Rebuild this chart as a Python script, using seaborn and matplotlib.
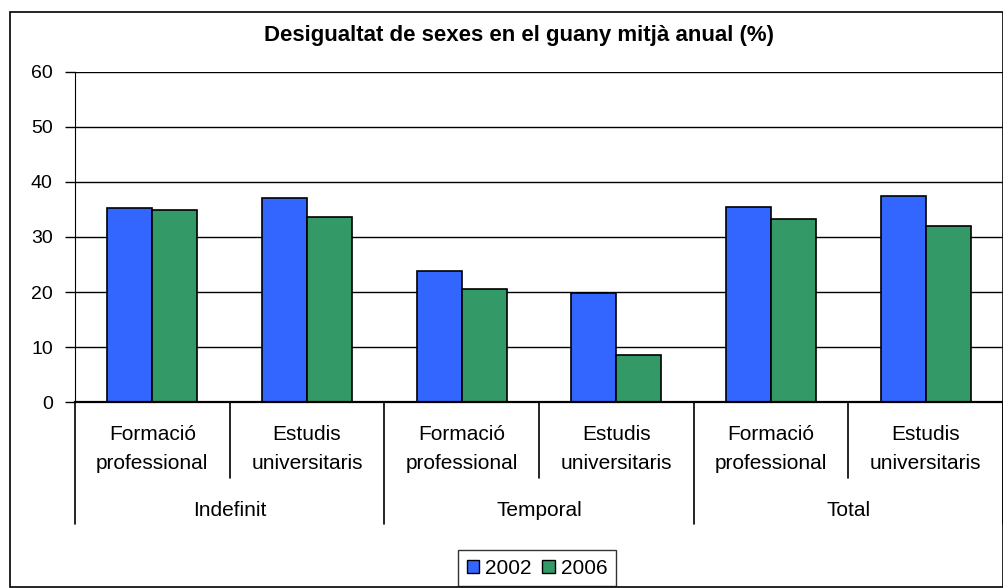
"""Desigualtat de sexes en el guany mitja anual - grouped bar chart."""

import matplotlib.pyplot as plt
import pandas as pd
import seaborn as sns
from matplotlib.patches import Patch, Rectangle

plt.switch_backend("Agg")

GROUPS = ["Indefinit", "Temporal", "Total"]
STUDIES = ["Formació\nprofessional", "Estudis\nuniversitaris"]
YEARS = ["2002", "2006"]
VALUES_2002 = [35.2, 37.1, 23.9, 19.9, 35.5, 37.5]
VALUES_2006 = [34.9, 33.6, 20.6, 8.5, 33.3, 32.0]
COLORS = ["#3366FF", "#339966"]


def main() -> None:
    sns.set_style("white")
    plt.rcParams["font.family"] = ["Liberation Sans", "DejaVu Sans"]
    for key in ["text.color", "xtick.color", "ytick.color", "axes.labelcolor"]:
        plt.rcParams[key] = "black"

    cats = [f"{g}|{s}" for g in GROUPS for s in STUDIES]
    df = pd.DataFrame(
        {
            "cat": cats * 2,
            "year": [YEARS[0]] * len(cats) + [YEARS[1]] * len(cats),
            "value": VALUES_2002 + VALUES_2006,
        }
    )

    fig = plt.figure(figsize=(10.04, 5.88), dpi=100)
    ax = fig.add_axes([0.0747, 0.3163, 0.9243, 0.5613])
    sns.barplot(
        data=df,
        x="cat",
        y="value",
        hue="year",
        order=cats,
        hue_order=YEARS,
        palette=COLORS,
        width=0.58,
        edgecolor="black",
        linewidth=1.2,
        saturation=1,
        legend=False,
        ax=ax,
    )
    ax.set_xlim(-0.5, len(cats) - 0.5)
    ax.set_ylim(0, 60)
    ax.set_yticks(range(0, 61, 10))
    ax.set_xlabel("")
    ax.set_ylabel("")
    ax.grid(axis="y", color="black", linewidth=1.0)
    ax.set_axisbelow(True)
    for side in ["top", "right"]:
        ax.spines[side].set_visible(False)
    ax.spines["left"].set_color("black")
    ax.spines["bottom"].set_color("black")
    ax.spines["bottom"].set_linewidth(1.6)
    ax.tick_params(axis="y", left=True, length=7, width=1, labelsize=14, pad=9)
    ax.tick_params(axis="x", bottom=False, labelsize=15, pad=13)
    ax.set_xticks(range(len(cats)))
    ax.set_xticklabels([c.split("|")[1] for c in cats], linespacing=1.65)

    # multi-level category separators and group labels
    trans = ax.get_xaxis_transform()
    for i in range(len(cats) + 1):
        x = i - 0.5
        depth = -0.23 if i % 2 == 1 else -0.37
        ax.plot([x, x], [0, depth], color="black", linewidth=1.2,
                transform=trans, clip_on=False)
    for j, g in enumerate(GROUPS):
        ax.text(2 * j + 0.5, -0.329, g, transform=trans, ha="center",
                va="center", fontsize=15)

    fig.text(0.517, 0.94, "Desigualtat de sexes en el guany mitjà anual (%)",
             ha="center", va="center", fontsize=16, fontweight="bold")

    fig.patches.append(
        Rectangle((10 / 1004, 0.002), 993 / 1004, 1 - 12 / 588 - 0.002,
                  transform=fig.transFigure, fill=False, edgecolor="black",
                  linewidth=1.2)
    )

    handles = [Patch(facecolor=c, edgecolor="black", label=y)
               for c, y in zip(COLORS, YEARS)]
    fig.legend(handles=handles, loc="center", bbox_to_anchor=(0.535, 0.034),
               ncol=2, frameon=True, fancybox=False, edgecolor="black",
               fontsize=15, handlelength=0.6, handleheight=0.6,
               handletextpad=0.3, columnspacing=0.5, borderpad=0.4)

    fig.savefig("out.png", dpi=100)
    plt.close(fig)


if __name__ == "__main__":
    main()
